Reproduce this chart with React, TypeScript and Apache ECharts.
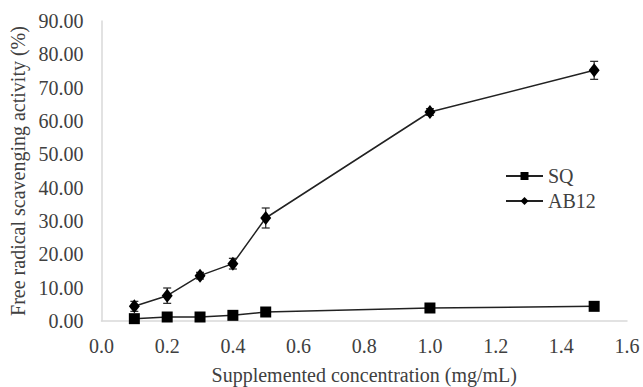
import React, { useEffect, useRef } from "react";
import * as echarts from "echarts";

const concentrations = [0.1, 0.2, 0.3, 0.4, 0.5, 1.0, 1.5];
const sqValues = [0.7, 1.2, 1.2, 1.7, 2.7, 3.9, 4.4];
const sqErrors = [0.2, 0.2, 0.2, 0.2, 0.3, 0.3, 0.3];
const ab12Values = [4.4, 7.6, 13.6, 17.2, 30.9, 62.7, 75.2];
const ab12Errors = [1.5, 2.3, 1.0, 1.6, 3.0, 1.0, 2.7];
const seriesNames = ["SQ", "AB12"];

const FONT = "'Liberation Serif', 'Times New Roman', Times, serif";
const TEXT = "#404040";
const FS = 20;

function errorSeries(values: number[], errors: number[]) {
  return {
    type: "custom",
    silent: true,
    z: 1,
    data: concentrations.map((x, i) => [x, values[i] - errors[i], values[i] + errors[i]]),
    renderItem: (params: any, api: any) => {
      const x = api.value(0);
      const lo = api.coord([x, api.value(1)]);
      const hi = api.coord([x, api.value(2)]);
      const w = 4;
      const style = { stroke: "#222", lineWidth: 1.2 };
      return {
        type: "group",
        children: [
          { type: "line", shape: { x1: lo[0], y1: lo[1], x2: hi[0], y2: hi[1] }, style },
          { type: "line", shape: { x1: lo[0] - w, y1: lo[1], x2: lo[0] + w, y2: lo[1] }, style },
          { type: "line", shape: { x1: hi[0] - w, y1: hi[1], x2: hi[0] + w, y2: hi[1] }, style },
        ],
      };
    },
  };
}

export default function App() {
  const ref = useRef<HTMLDivElement>(null);
  useEffect(() => {
    if (!ref.current) return;
    const chart = echarts.init(ref.current, undefined, { renderer: "svg" });
    chart.setOption({
      animation: false,
      backgroundColor: "#fff",
      textStyle: { fontFamily: FONT },
      grid: { left: 101.5, right: 16, top: 21, bottom: 66, containLabel: false, outerBoundsMode: "none" },
      legend: {
        orient: "vertical",
        left: 500,
        top: 161,
        itemWidth: 37,
        itemHeight: 10,
        itemGap: 5,
        data: seriesNames,
        textStyle: { fontFamily: FONT, fontSize: FS, color: TEXT },
      },
      xAxis: {
        type: "value",
        min: 0,
        max: 1.6,
        interval: 0.2,
        name: "Supplemented concentration (mg/mL)",
        nameLocation: "middle",
        nameGap: 44,
        nameTextStyle: { fontFamily: FONT, fontSize: FS, color: TEXT },
        axisLine: { show: true, lineStyle: { color: "#d9d9d9", width: 1.5 } },
        axisTick: { show: false },
        splitLine: { show: false },
        axisLabel: {
          margin: 15,
          fontFamily: FONT,
          fontSize: FS,
          color: TEXT,
          formatter: (v: number) => v.toFixed(1),
        },
      },
      yAxis: {
        type: "value",
        min: 0,
        max: 90,
        interval: 10,
        name: "Free radical scavenging activity (%)",
        nameLocation: "middle",
        nameGap: 67,
        nameTextStyle: { fontFamily: FONT, fontSize: FS, color: TEXT },
        axisLine: { show: true, lineStyle: { color: "#d9d9d9", width: 1.5 } },
        axisTick: { show: false },
        splitLine: { show: false },
        axisLabel: {
          margin: 18,
          fontFamily: FONT,
          fontSize: FS,
          color: TEXT,
          formatter: (v: number) => v.toFixed(2),
        },
      },
      series: [
        errorSeries(sqValues, sqErrors),
        errorSeries(ab12Values, ab12Errors),
        {
          name: seriesNames[0],
          type: "line",
          z: 3,
          data: concentrations.map((x, i) => [x, sqValues[i]]),
          symbol: "rect",
          symbolSize: 11,
          itemStyle: { color: "#000" },
          lineStyle: { color: "#222", width: 1.5 },
        },
        {
          name: seriesNames[1],
          type: "line",
          z: 3,
          data: concentrations.map((x, i) => [x, ab12Values[i]]),
          symbol: "diamond",
          symbolSize: [11, 14],
          itemStyle: { color: "#000" },
          lineStyle: { color: "#222", width: 1.5 },
        },
      ],
    });
    return () => chart.dispose();
  }, []);
  return <div ref={ref} style={{ width: 643, height: 387, position: "absolute", left: 0, top: 0 }} />;
}
